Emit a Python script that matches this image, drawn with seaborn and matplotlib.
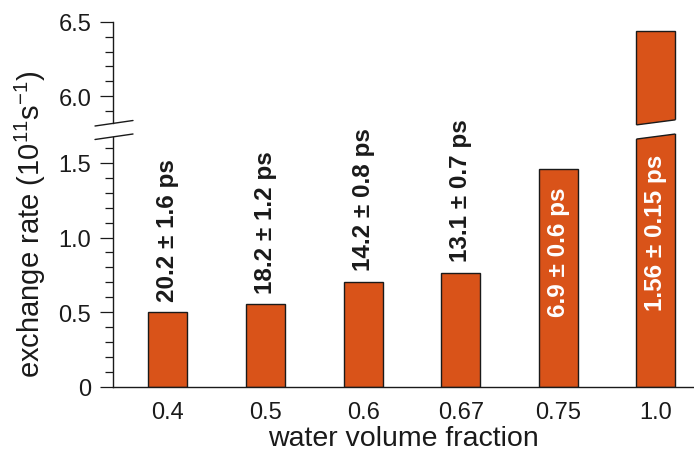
import matplotlib
matplotlib.use("Agg")
import matplotlib.pyplot as plt
from matplotlib.lines import Line2D
from matplotlib.patches import Polygon
import pandas as pd
import seaborn as sns

# data
fractions = ["0.4", "0.5", "0.6", "0.67", "0.75", "1.0"]
rates = [0.50, 0.555, 0.705, 0.765, 1.46, 6.44]
lifetimes = ["20.2 ± 1.6 ps", "18.2 ± 1.2 ps", "14.2 ± 0.8 ps",
             "13.1 ± 0.7 ps", "6.9 ± 0.6 ps", "1.56 ± 0.15 ps"]
label_inside = [False, False, False, False, True, True]

BAR = "#D95319"
INK = "#1a1a1a"
W, H = 694, 452

sns.set_theme(style="white")
plt.rcParams["font.family"] = ["Liberation Sans", "DejaVu Sans"]
plt.rcParams["mathtext.fontset"] = "custom"
plt.rcParams["mathtext.rm"] = "Liberation Sans"
plt.rcParams["mathtext.it"] = "Liberation Sans:italic"
plt.rcParams["text.color"] = INK
plt.rcParams["axes.labelcolor"] = INK
plt.rcParams["xtick.color"] = INK
plt.rcParams["ytick.color"] = INK


def fx(px):
    return px / W


def fy(py):
    return 1 - py / H


fig = plt.figure(figsize=(W / 100, H / 100), dpi=100)
left = fx(113.3)
ax_top = fig.add_axes([left, fy(127.1), 1 - left, fy(22.7) - fy(127.1)])
ax_bot = fig.add_axes([left, fy(387.7), 1 - left, fy(134.1) - fy(387.7)])

df = pd.DataFrame({"fraction": fractions, "rate": rates})
for ax in (ax_top, ax_bot):
    sns.barplot(data=df, x="fraction", y="rate", ax=ax, color=BAR, saturation=1,
                width=0.4, edgecolor=INK, linewidth=1.0)
    ax.set_xlim(-0.56, 5.39)
    ax.set_xlabel("")
    ax.set_ylabel("")
    for side in ("top", "right"):
        ax.spines[side].set_visible(False)
    ax.spines["left"].set_color(INK)
    ax.spines["left"].set_linewidth(1.0)
    ax.tick_params(axis="y", which="major", left=True, direction="out", length=9.4,
                   width=0.9, labelsize=17, pad=6.5)
    ax.tick_params(axis="y", which="minor", left=True, direction="out", length=5.8, width=0.9)

bot_top = 1.677
ax_bot.set_ylim(0, 1.70)
ax_top.set_ylim(5.80, 6.5)
ax_bot.spines["left"].set_bounds(0, bot_top)
ax_top.spines["left"].set_bounds(5.822, 6.5)
ax_top.spines["bottom"].set_visible(False)
ax_bot.spines["bottom"].set_color(INK)
ax_bot.spines["bottom"].set_linewidth(1.0)

ax_bot.set_yticks([0, 0.5, 1.0, 1.5], ["0", "0.5", "1.0", "1.5"])
ax_bot.set_yticks([0.1, 0.2, 0.3, 0.4, 0.6, 0.7, 0.8, 0.9, 1.1, 1.2, 1.3, 1.4, 1.6], minor=True)
ax_top.set_yticks([6.0, 6.5], ["6.0", "6.5"])
ax_top.set_yticks([5.9, 6.1, 6.2, 6.3, 6.4], minor=True)

ax_top.tick_params(axis="x", bottom=False, labelbottom=False)
ax_bot.tick_params(axis="x", bottom=False, length=0, labelsize=17, pad=10)
ax_bot.set_xlabel("water volume fraction", fontsize=20.5, labelpad=1.5)

fig.text(fx(30), fy(224), "exchange rate (10$^{11}$s$^{-1}$)", rotation=90,
         ha="center", va="center", fontsize=21)


def cut_bar(ax, bar, y_left, y_right, keep_above):
    # clip the tall bar along a slanted line and draw the cut edge
    x0 = bar.get_x()
    x1 = x0 + bar.get_width()
    slope = (y_right - y_left) / (x1 - x0)
    pad = 0.2 * (x1 - x0)
    xa, xb = x0 - pad, x1 + pad
    ya, yb = y_left - slope * pad, y_right + slope * pad
    far = 100 if keep_above else -100
    clip = Polygon([(xa, ya), (xb, yb), (xb, far), (xa, far)], closed=True,
                   transform=ax.transData)
    bar.set_clip_path(clip)
    ax.add_line(Line2D([x0, x1], [y_left, y_right], color=INK, lw=1.0,
                       solid_capstyle="butt"))


cut_bar(ax_top, ax_top.patches[5], 5.808, 5.842, keep_above=True)
cut_bar(ax_bot, ax_bot.patches[5], 1.660, 1.694, keep_above=False)

# break marks on the y axis
for (x_a, y_a), (x_b, y_b) in [((95, 127), (133, 121.5)), ((95, 140.5), (133, 135))]:
    fig.add_artist(Line2D([fx(x_a), fx(x_b)], [fy(y_a), fy(y_b)], color=INK, lw=1.0,
                          transform=fig.transFigure))

# lifetime labels
for i, (rate, text, inside) in enumerate(zip(rates, lifetimes, label_inside)):
    if inside:
        ax_bot.annotate(text, xy=(i, min(rate, bot_top)), xytext=(0, -12.5),
                        textcoords="offset points", rotation=90, ha="center", va="top",
                        fontsize=17.5, fontweight="bold", color="white")
    else:
        ax_bot.annotate(text, xy=(i, rate), xytext=(0, 8), textcoords="offset points",
                        rotation=90, ha="center", va="bottom", fontsize=17.5,
                        fontweight="bold", color=INK)

fig.savefig("out.png", dpi=100)
